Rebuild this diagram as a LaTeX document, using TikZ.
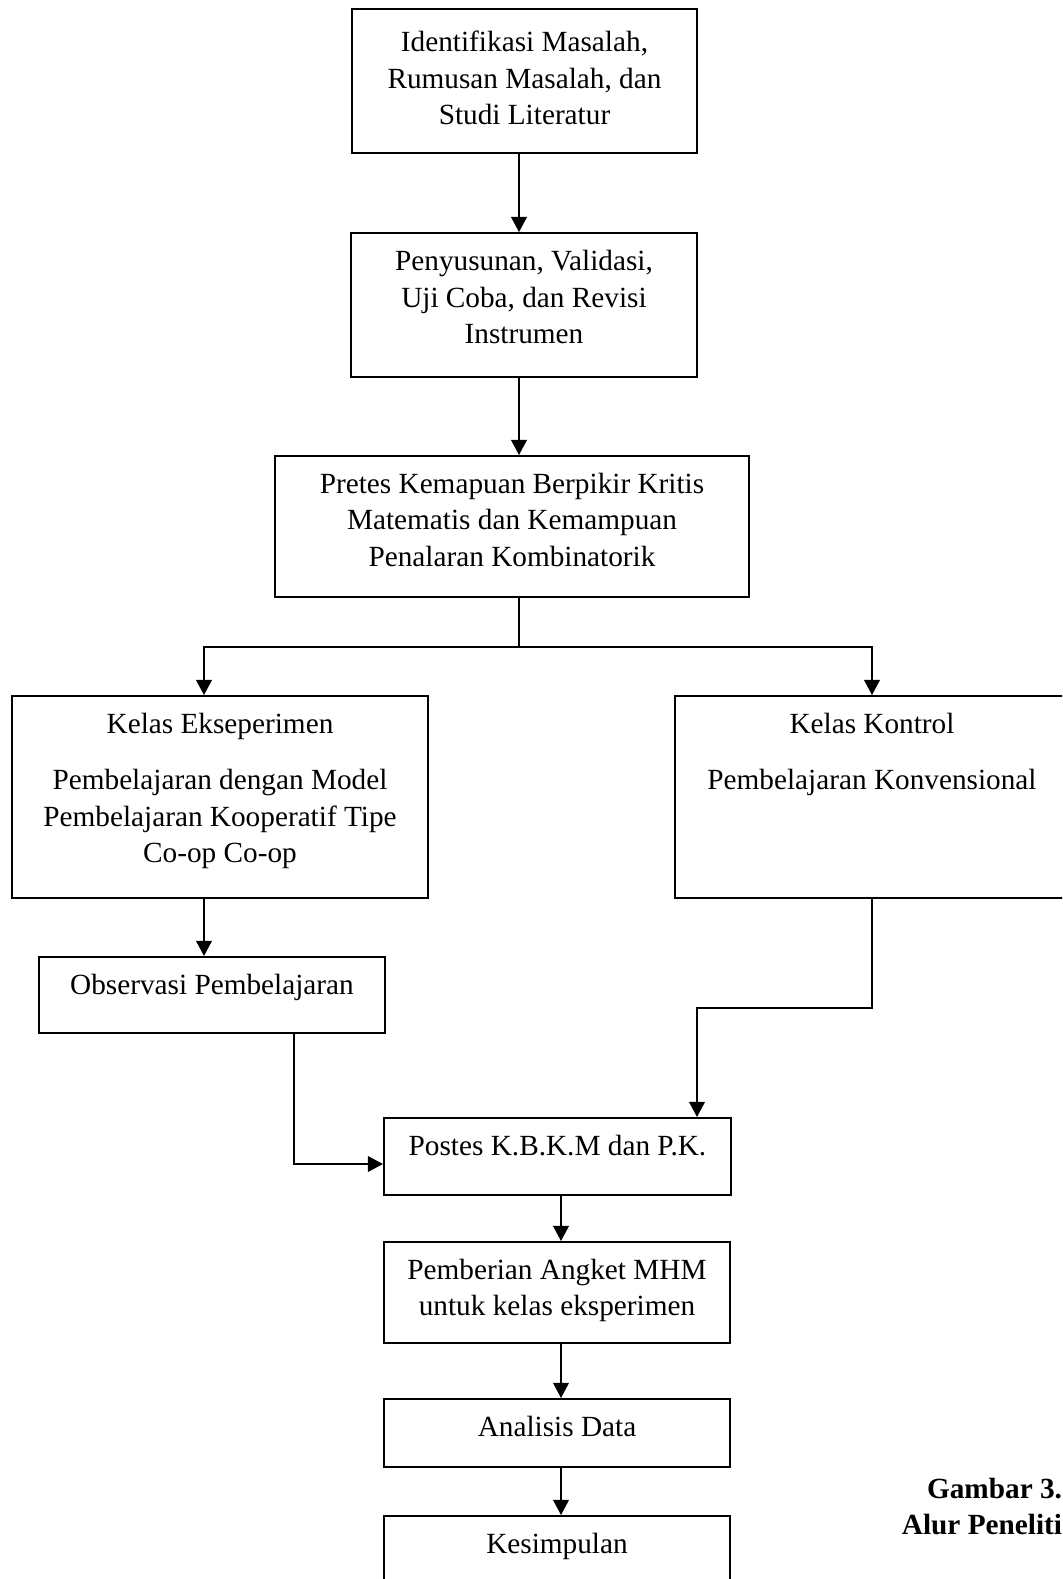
\documentclass[tikz,border=0pt]{standalone}
\usepackage{fontspec}
\setmainfont{Liberation Serif}
\usetikzlibrary{arrows.meta,positioning}

\begin{document}
\begin{tikzpicture}[
    x=0.41pt, y=-0.41pt,
    line width=0.8pt,
    box/.style={draw,inner sep=0pt},
    txt/.style={anchor=north,align=center,inner sep=0pt,yshift=-7pt},
    >={Triangle[length=6.2pt,width=6.4pt]},
    font=\fontsize{12}{15}\selectfont
]
\useasboundingbox (0,0) rectangle (1062,1579);
\clip (0,0) rectangle (1062,1579);

% alur utama
\node[box,minimum width=141.5pt,minimum height=59pt,
  label={[txt,yshift=-2pt]north:{Identifikasi Masalah,\\Rumusan Masalah, dan\\Studi Literatur}}] (idm) at (524.5,81) {};
\node[box,minimum width=141.9pt,minimum height=59pt,
  label={[txt]north:{Penyusunan, Validasi,\\Uji Coba, dan Revisi\\Instrumen}}] (pvu) at (524,305) {};
\node[box,minimum width=194.3pt,minimum height=57.8pt,
  label={[txt]north:{Pretes Kemapuan Berpikir Kritis\\Matematis dan Kemampuan\\Penalaran Kombinatorik}}] (pre) at (512,526.5) {};

% dua kelas
\node[box,minimum width=170.6pt,minimum height=82.8pt,
  label={[txt]north:{Kelas Ekseperimen\\[8pt]Pembelajaran dengan Model\\Pembelajaran Kooperatif Tipe\\Co-op Co-op}}] (eks) at (220,797) {};
\node[box,minimum width=161.5pt,minimum height=82.8pt,
  label={[txt]north:{Kelas Kontrol\\[8pt]Pembelajaran Konvensional}}] (kon) at (872,797) {};
\node[box,minimum width=141.9pt,minimum height=31.2pt,
  label={[txt]north:{Observasi Pembelajaran}}] (obs) at (212,995) {};

% akhir
\node[box,minimum width=142.3pt,minimum height=31.6pt,
  label={[txt]north:{Postes K.B.K.M dan P.K.}}] (pos) at (557.5,1156.5) {};
\node[box,minimum width=141.9pt,minimum height=41.4pt,
  label={[txt]north:{Pemberian Angket MHM\\untuk kelas eksperimen}}] (ang) at (557,1292.5) {};
\node[box,minimum width=141.9pt,minimum height=27.9pt,
  label={[txt]north:{Analisis Data}}] (ana) at (557,1433) {};
\node[box,minimum width=141.9pt,minimum height=27.9pt,
  label={[txt]north:{Kesimpulan}}] (kes) at (557,1550) {};

\node[anchor=north east,align=right,inner sep=0pt,font=\fontsize{12}{15}\selectfont\bfseries] (cap) at (1063,1477) {Gambar 3.\\Alur Peneliti};

% titik bantu
\coordinate (cx) at (519,0);
\coordinate (br) at (519,647);
\coordinate (ex) at (204,0);
\coordinate (ox) at (294,1164);
\coordinate (kx) at (697,1008);
\coordinate (lx) at (561,0);

\draw[->] (idm.south -| cx) -- (pvu.north -| cx);
\draw[->] (pvu.south -| cx) -- (pre.north -| cx);
\draw (pre.south -| cx) -- (br);
\draw[->] (br) -| (ex |- eks.north);
\draw[->] (br) -| (kon.north);
\draw[->] (eks.south -| ex) -- (obs.north -| ex);
\draw[->] (obs.south -| ox) |- (pos.west |- ox);
\draw[->] (kon.south) |- (kx) -- (pos.north -| kx);
\draw[->] (pos.south -| lx) -- (ang.north -| lx);
\draw[->] (ang.south -| lx) -- (ana.north -| lx);
\draw[->] (ana.south -| lx) -- (kes.north -| lx);
\end{tikzpicture}
\end{document}
